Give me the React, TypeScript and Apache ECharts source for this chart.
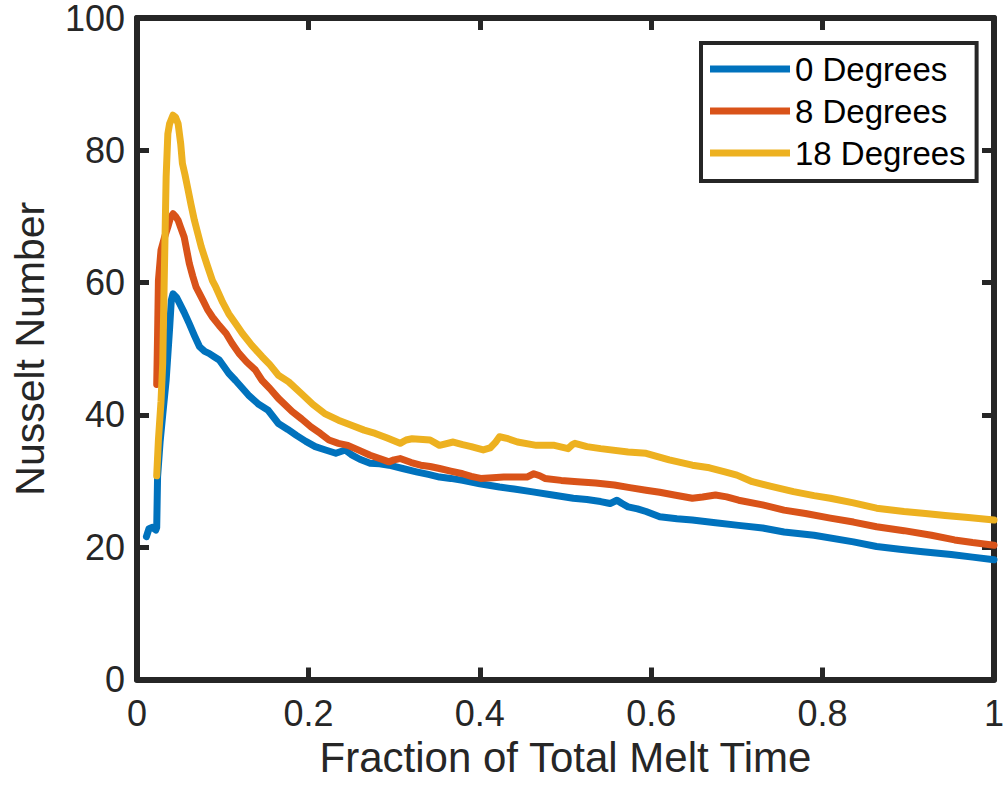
import React, { useEffect, useRef } from "react";
import * as echarts from "echarts";

const seriesNames = ["0 Degrees", "8 Degrees", "18 Degrees"];
const seriesColors = ["#0072BD", "#D95319", "#EDB120"];
const xTickLabels = ["0", "0.2", "0.4", "0.6", "0.8", "1"];
const yTickLabels = ["0", "20", "40", "60", "80", "100"];

const blueX = [0.011, 0.014, 0.018, 0.022, 0.023, 0.024, 0.027, 0.030, 0.034, 0.038, 0.040, 0.042, 0.046, 0.050, 0.055, 0.061, 0.067, 0.073, 0.079, 0.084, 0.090, 0.096, 0.101, 0.107, 0.115, 0.130, 0.142, 0.153, 0.165, 0.176, 0.186, 0.197, 0.208, 0.220, 0.232, 0.243, 0.250, 0.260, 0.272, 0.283, 0.294, 0.310, 0.326, 0.340, 0.353, 0.366, 0.380, 0.400, 0.423, 0.440, 0.460, 0.485, 0.509, 0.525, 0.541, 0.552, 0.560, 0.566, 0.573, 0.584, 0.594, 0.610, 0.630, 0.648, 0.675, 0.702, 0.730, 0.755, 0.790, 0.836, 0.863, 0.890, 0.917, 0.950, 0.975, 1.0];
const blueY = [21.6, 22.8, 23.0, 22.6, 23.0, 30.6, 36.0, 40.0, 45.2, 53.0, 57.3, 58.3, 57.8, 56.8, 55.5, 53.8, 52.0, 50.3, 49.6, 49.3, 48.8, 48.3, 47.4, 46.3, 45.2, 43.0, 41.6, 40.7, 38.7, 37.8, 36.9, 36.0, 35.2, 34.7, 34.2, 34.7, 34.0, 33.3, 32.7, 32.6, 32.4, 31.9, 31.4, 31.0, 30.6, 30.4, 30.1, 29.6, 29.1, 28.8, 28.4, 27.9, 27.4, 27.2, 26.9, 26.6, 27.1, 26.6, 26.1, 25.8, 25.4, 24.6, 24.3, 24.1, 23.7, 23.3, 22.9, 22.3, 21.8, 20.8, 20.1, 19.7, 19.3, 18.9, 18.5, 18.1];

const orangeX = [0.023, 0.024, 0.025, 0.028, 0.032, 0.036, 0.039, 0.042, 0.045, 0.048, 0.051, 0.055, 0.061, 0.065, 0.069, 0.077, 0.082, 0.088, 0.096, 0.104, 0.111, 0.119, 0.128, 0.138, 0.146, 0.155, 0.165, 0.181, 0.192, 0.203, 0.214, 0.224, 0.235, 0.246, 0.260, 0.272, 0.283, 0.294, 0.300, 0.307, 0.320, 0.331, 0.342, 0.353, 0.366, 0.380, 0.390, 0.401, 0.415, 0.428, 0.445, 0.455, 0.463, 0.470, 0.476, 0.495, 0.514, 0.535, 0.557, 0.575, 0.594, 0.610, 0.627, 0.648, 0.660, 0.675, 0.688, 0.702, 0.730, 0.755, 0.780, 0.809, 0.836, 0.863, 0.895, 0.927, 0.954, 0.975, 1.0];
const orangeY = [44.6, 52.0, 60.3, 64.9, 66.8, 68.4, 69.8, 70.4, 70.0, 69.4, 68.3, 66.9, 62.9, 61.0, 59.3, 57.3, 56.0, 54.8, 53.5, 52.3, 50.8, 49.3, 48.0, 46.8, 45.2, 44.0, 42.5, 40.5, 39.4, 38.2, 37.2, 36.2, 35.7, 35.4, 34.6, 33.9, 33.4, 32.9, 33.2, 33.4, 32.8, 32.4, 32.2, 31.9, 31.5, 31.1, 30.7, 30.4, 30.5, 30.6, 30.6, 30.6, 31.1, 30.8, 30.4, 30.1, 29.9, 29.7, 29.4, 29.0, 28.6, 28.3, 27.9, 27.4, 27.6, 27.9, 27.6, 27.1, 26.4, 25.6, 25.1, 24.4, 23.8, 23.1, 22.5, 21.8, 21.1, 20.7, 20.3];

const yellowX = [0.023, 0.025, 0.028, 0.030, 0.032, 0.034, 0.036, 0.038, 0.042, 0.045, 0.048, 0.051, 0.053, 0.056, 0.059, 0.063, 0.067, 0.071, 0.075, 0.082, 0.088, 0.092, 0.100, 0.107, 0.115, 0.123, 0.134, 0.146, 0.155, 0.165, 0.177, 0.192, 0.205, 0.219, 0.235, 0.251, 0.265, 0.278, 0.292, 0.307, 0.314, 0.321, 0.342, 0.353, 0.369, 0.380, 0.390, 0.404, 0.412, 0.418, 0.423, 0.433, 0.444, 0.466, 0.487, 0.503, 0.508, 0.511, 0.525, 0.541, 0.573, 0.594, 0.621, 0.648, 0.668, 0.686, 0.700, 0.718, 0.740, 0.766, 0.790, 0.809, 0.836, 0.863, 0.895, 0.920, 0.943, 0.970, 1.0];
const yellowY = [30.8, 36.2, 42.0, 47.8, 62.0, 76.0, 82.5, 84.0, 85.3, 85.0, 84.0, 81.0, 78.0, 76.3, 74.4, 71.8, 69.4, 67.4, 65.4, 62.6, 60.3, 59.3, 57.0, 55.3, 53.8, 52.3, 50.5, 48.8, 47.6, 46.0, 45.0, 43.2, 41.6, 40.2, 39.2, 38.4, 37.7, 37.2, 36.5, 35.7, 36.2, 36.4, 36.2, 35.4, 35.9, 35.5, 35.2, 34.7, 35.0, 35.8, 36.7, 36.4, 35.9, 35.4, 35.4, 34.9, 35.5, 35.7, 35.2, 34.9, 34.4, 34.2, 33.2, 32.4, 32.0, 31.4, 30.9, 29.9, 29.2, 28.4, 27.8, 27.4, 26.7, 25.9, 25.4, 25.1, 24.8, 24.5, 24.1];

const seriesX = [blueX, orangeX, yellowX];
const seriesY = [blueY, orangeY, yellowY];

const AXIS_COLOR = "#262626";
const FONT = "Liberation Sans";

export default function App() {
  const ref = useRef<HTMLDivElement>(null);
  useEffect(() => {
    if (!ref.current) return;
    const chart = echarts.init(ref.current, undefined, { renderer: "svg" });
    const axisLine = { show: true, onZero: false, lineStyle: { color: AXIS_COLOR, width: 6 } };
    const axisTick = { show: true, inside: true, length: 12, lineStyle: { color: AXIS_COLOR, width: 5 } };
    const xBase = { type: "value" as const, min: 0, max: 1, interval: 0.2, splitLine: { show: false } };
    const yBase = { type: "value" as const, min: 0, max: 100, interval: 20, splitLine: { show: false } };
    chart.setOption({
      animation: false,
      backgroundColor: "#ffffff",
      grid: { left: 137, top: 17.5, right: 3.5, bottom: 112.5, containLabel: false },
      legend: {
        orient: "vertical",
        left: 701,
        top: 43,
        padding: [5, 11, 7, 9],
        itemWidth: 80,
        itemHeight: 7,
        itemGap: 0,
        icon: "rect",
        borderColor: AXIS_COLOR,
        borderWidth: 4,
        backgroundColor: "#ffffff",
        data: seriesNames,
        textStyle: { fontFamily: FONT, fontSize: 33, color: "#000000", lineHeight: 42 },
      },
      xAxis: [
        {
          ...xBase,
          position: "bottom",
          name: "Fraction of Total Melt Time",
          nameLocation: "middle",
          nameGap: 42,
          nameTextStyle: { fontFamily: FONT, fontSize: 42, color: AXIS_COLOR },
          axisLine,
          axisTick,
          axisLabel: {
            margin: 16,
            fontFamily: FONT,
            fontSize: 36,
            color: AXIS_COLOR,
            formatter: (v: number) => xTickLabels[Math.round(v / 0.2)] ?? "",
          },
        },
        { ...xBase, position: "top", axisLine, axisTick, axisLabel: { show: false } },
      ],
      yAxis: [
        {
          ...yBase,
          position: "left",
          name: "Nusselt Number",
          nameLocation: "middle",
          nameGap: 87,
          nameTextStyle: { fontFamily: FONT, fontSize: 41, color: AXIS_COLOR },
          axisLine,
          axisTick,
          axisLabel: {
            margin: 12,
            fontFamily: FONT,
            fontSize: 36,
            color: AXIS_COLOR,
            formatter: (v: number) => yTickLabels[Math.round(v / 20)] ?? "",
          },
        },
        { ...yBase, position: "right", axisLine, axisTick, axisLabel: { show: false } },
      ],
      series: seriesNames.map((name, i) => ({
        name,
        type: "line",
        xAxisIndex: 0,
        yAxisIndex: 0,
        showSymbol: false,
        symbol: "none",
        clip: true,
        color: seriesColors[i],
        lineStyle: { color: seriesColors[i], width: 7, join: "round", cap: "round" },
        data: seriesX[i].map((x, j) => [x, seriesY[i][j]]),
      })),
    });
    return () => chart.dispose();
  }, []);
  return (
    <div
      ref={ref}
      style={{ position: "fixed", left: 0, top: 0, width: 1007, height: 792, background: "#fff" }}
    />
  );
}
